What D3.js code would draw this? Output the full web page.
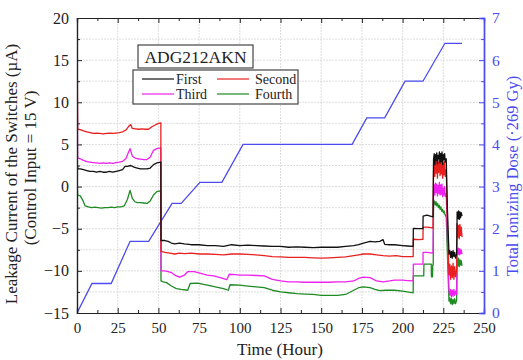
<!DOCTYPE html>
<html>
<head>
<meta charset="utf-8">
<script src="https://cdn.jsdelivr.net/npm/d3@7"></script>
<style>
  html, body { margin: 0; padding: 0; background: #fff; }
  svg { display: block; }
</style>
</head>
<body>
<svg id="chart" width="523" height="360"></svg>
<script>
// Leakage current of the four switches [hour, µA]
const first = [
  [0,3],[0.5,2.1],[2,2.1],[4,2.0],[6,1.9],[8,1.8],[10,1.8],[12,1.7],[14,1.8],[16,1.7],[18,1.7],[20,1.8],
  [22,1.7],[24,1.8],[26,1.9],[28,2.0],[29.5,2.4],[31,2.4],[33,2.5],[35,2.3],[37,2.2],[39,2.1],[41,2.1],
  [43,2.1],[45,2.2],[47,2.6],[49,2.8],[51.5,2.9],
  [51.6,-6.4],[54,-6.4],[56,-6.5],[58,-6.7],[60,-6.8],[63,-6.7],[66,-6.8],[70,-6.9],[75,-6.9],[80,-7.0],
  [85,-7.0],[90,-7.1],[95,-6.9],[100,-7.0],[105,-6.95],[110,-7.0],[115,-7.05],[120,-7.1],[125,-7.1],
  [130,-7.2],[135,-7.15],[140,-7.2],[145,-7.25],[150,-7.2],[155,-7.2],[160,-7.2],[165,-7.1],[170,-7.0],
  [173,-6.9],[176,-6.7],[180,-6.5],[183,-6.55],[186,-6.5],[188,-6.3],[189,-6.85],[192,-6.9],[195,-6.9],
  [200,-7.0],[203,-7.05],[206.5,-7.1],
  [206.6,-4.95],[210,-5.0],[212.5,-5.0],[212.6,-3.5],[215,-3.4],[217,-3.5],[218.7,-3.6],
  [219,3.2],[219.4,3.9],[219.8,2.6],[220.2,3.8],[220.6,3.1],[221,4.0],[221.4,2.7],[221.8,3.7],[222.2,3.3],
  [222.6,4.1],[223,2.8],[223.4,3.9],[223.8,3.0],[224.2,4.1],[224.6,2.6],[225,3.8],[225.4,3.2],[225.8,3.9],
  [226.2,2.9],[226.8,3.3],[227.5,-2.6],[228.5,-8.0],[229,-7.6],[229.5,-8.4],[230,-7.7],[230.5,-8.5],
  [231,-7.6],[231.5,-8.3],[232,-7.8],[232.5,-8.5],[233.2,-8.0],[233.5,-3.0],[234,-3.8],[234.4,-2.9],
  [234.8,-3.9],[235.2,-3.0],[235.6,-3.7],[236,-3.1],[236.5,-3.5]
];
const second = [
  [0,20],[0.4,6.8],[2,6.75],[4,6.6],[6,6.5],[8,6.4],[10,6.3],[12,6.35],[14,6.3],[16,6.25],[18,6.3],
  [20,6.35],[22,6.3],[24,6.35],[26,6.4],[28,6.5],[30,6.7],[32,7.2],[33,7.35],[34,6.9],[36,6.85],[38,6.8],
  [40,6.85],[42,6.8],[44,6.8],[46,7.1],[48,7.3],[50,7.5],[51.5,7.55],
  [51.6,-7.7],[54,-7.8],[57,-7.9],[60,-8.0],[63,-7.9],[66,-7.95],[70,-7.9],[75,-8.0],[80,-8.0],[85,-8.05],
  [90,-8.1],[95,-8.0],[100,-8.0],[105,-8.05],[110,-8.1],[115,-8.2],[120,-8.3],[125,-8.35],[130,-8.4],
  [135,-8.4],[140,-8.4],[145,-8.45],[150,-8.5],[155,-8.45],[160,-8.4],[165,-8.35],[170,-8.2],[173,-8.1],
  [176,-8.0],[180,-8.0],[184,-8.1],[188,-8.2],[192,-8.25],[196,-8.2],[200,-8.3],[203,-8.3],[206.5,-8.3],
  [206.6,-6.25],[210,-6.3],[212.5,-6.25],[212.6,-4.8],[215,-4.8],[218.7,-4.9],
  [219,1.8],[219.4,3.0],[219.8,1.2],[220.2,3.3],[220.6,1.6],[221,3.1],[221.4,1.0],[221.8,2.9],[222.2,1.7],
  [222.6,3.5],[223,1.3],[223.4,3.2],[223.8,1.5],[224.2,3.3],[224.6,1.0],[225,2.8],[225.4,1.4],[225.8,3.0],
  [226.2,1.2],[226.8,2.0],[227.5,-4.0],[228.5,-10.5],[229,-9.2],[229.5,-11.0],[230,-9.4],[230.5,-10.8],
  [231,-9.1],[231.5,-11.0],[232,-9.5],[232.5,-10.7],[233.2,-9.8],[233.5,-4.4],[234,-6.0],[234.4,-4.6],
  [234.8,-6.2],[235.2,-4.5],[235.6,-5.8],[236,-4.8],[236.5,-6.0]
];
const third = [
  [0,20],[0.4,3.4],[2,3.3],[4,3.1],[6,2.95],[8,2.9],[10,2.85],[12,2.8],[14,2.75],[16,2.8],[18,2.75],
  [20,2.8],[22,2.75],[24,2.85],[26,2.9],[28,3.0],[30,3.3],[31.5,4.0],[32.6,4.5],[34,3.6],[35.5,3.4],
  [37,3.3],[39,3.25],[41,3.2],[43,3.2],[45,3.5],[47,4.3],[49,4.5],[51.5,4.6],
  [51.6,-10.0],[54,-10.0],[56,-10.1],[58,-10.2],[60,-10.5],[63,-10.75],[66,-10.5],[68,-10.1],[72,-10.1],
  [76,-10.3],[80,-10.5],[84,-10.6],[88,-10.8],[92,-11.05],[93.5,-10.4],[97,-10.45],[100,-10.5],[105,-10.5],
  [110,-10.55],[115,-10.6],[120,-11.0],[125,-11.2],[130,-11.3],[135,-11.3],[140,-11.35],[145,-11.35],
  [150,-11.35],[155,-11.35],[160,-11.3],[165,-11.3],[170,-11.2],[173,-10.9],[176,-10.75],[180,-10.8],
  [184,-11.2],[188,-11.3],[192,-11.2],[195,-11.1],[200,-11.1],[203,-11.15],[206.5,-11.2],
  [206.6,-9.2],[210,-9.2],[212.5,-9.2],[212.6,-7.8],[215,-7.8],[218.7,-7.9],
  [219,-0.6],[219.4,0.2],[219.8,-1.0],[220.2,0.4],[220.6,-0.7],[221,0.3],[221.4,-1.1],[221.8,0.1],
  [222.2,-0.8],[222.6,0.5],[223,-1.0],[223.4,0.2],[223.8,-0.9],[224.2,0.3],[224.6,-1.2],[225,-0.2],
  [225.4,-1.0],[225.8,0.0],[226.2,-1.2],[226.8,-0.8],[227.5,-6.0],[228.5,-12.4],[229,-12.9],[229.5,-12.2],
  [230,-13.1],[230.5,-12.3],[231,-13.0],[231.5,-12.2],[232,-12.9],[232.5,-12.4],[233.2,-12.8],[233.5,-7.4],
  [234,-8.0],[234.4,-7.3],[234.8,-8.1],[235.2,-7.4],[235.6,-8.0],[236,-7.5],[236.5,-8.0]
];
const fourth = [
  [0,1],[0.4,-1.0],[2,-1.1],[3.5,-1.6],[5,-2.3],[7,-2.4],[9,-2.5],[11,-2.45],[13,-2.5],[15,-2.55],
  [17,-2.5],[19,-2.5],[21,-2.45],[23,-2.5],[25,-2.4],[27,-2.4],[29,-2.3],[31,-1.5],[32.6,-0.45],[34,-1.4],
  [35.5,-1.8],[37,-1.9],[39,-1.9],[41,-1.95],[43,-2.0],[45,-1.7],[47,-1.0],[49,-0.6],[51.5,-0.5],
  [51.6,-11.2],[53,-11.3],[55,-11.4],[58,-11.8],[61,-12.1],[64,-12.2],[68,-12.3],[69.5,-11.5],[74,-11.45],
  [80,-11.7],[85,-11.9],[90,-12.1],[93,-12.3],[94,-11.65],[100,-11.7],[105,-11.8],[110,-11.9],[115,-12.0],
  [120,-12.3],[125,-12.5],[130,-12.6],[135,-12.7],[140,-12.75],[145,-12.8],[150,-12.9],[155,-12.9],
  [160,-12.9],[165,-12.8],[170,-12.3],[173,-12.0],[176,-11.9],[180,-12.0],[183,-12.2],[186,-12.35],
  [190,-12.3],[195,-12.3],[200,-12.4],[203,-12.5],[206.5,-12.6],
  [206.6,-10.6],[210,-10.6],[213,-10.6],[213.1,-9.2],[216,-9.2],[217.6,-9.2],[217.7,-10.7],[218.4,-10.7],
  [218.5,-9.3],[218.8,-9.3],
  [219,-2.0],[219.5,-1.7],[220,-2.2],[220.5,-1.8],[221,-2.3],[221.5,-2.0],[222,-2.5],[222.5,-2.2],
  [223,-2.7],[223.5,-2.4],[224,-2.9],[224.5,-2.7],[225,-3.1],[225.5,-2.9],[226,-3.3],[226.8,-3.6],
  [227.6,-8.5],[228.5,-13.6],[229,-13.2],[229.5,-13.9],[230,-13.3],[230.5,-14.0],[231,-13.4],
  [231.5,-13.9],[232,-13.3],[232.5,-13.9],[233.2,-13.5],[233.5,-8.6],[234,-9.4],[234.4,-8.5],[234.8,-9.5],
  [235.2,-8.7],[235.6,-9.3],[236,-8.8],[236.5,-9.4]
];
// Accumulated total ionizing dose [hour, ×269 Gy]
const dose = [
  [0,0],[9.2,0.7],[21,0.7],[32.6,1.7],[44,1.7],[58.4,2.6],[64,2.6],[75.5,3.1],[89,3.1],[102,4.0],
  [169,4.0],[178,4.63],[189,4.63],[201.5,5.5],[212.5,5.5],[226,6.4],[236.5,6.4]
];

const seriesNames = ["First", "Second", "Third", "Fourth"];
const seriesColors = ["#111111", "#e8201e", "#f020f0", "#1e8a22"];
const seriesData = [first, second, third, fourth];
const xTicks = [0, 25, 50, 75, 100, 125, 150, 175, 200, 225, 250];
const yTicks = [-15, -10, -5, 0, 5, 10, 15, 20];
const y2Ticks = [0, 1, 2, 3, 4, 5, 6, 7];

const FONT = "Liberation Serif";
const svg = d3.select("#chart");
const m = { left: 77, right: 484, top: 18, bottom: 313 };
const x = d3.scaleLinear().domain([0, 250]).range([m.left, m.right]);
const y = d3.scaleLinear().domain([-15, 20]).range([m.bottom, m.top]);
const y2 = d3.scaleLinear().domain([0, 7]).range([m.bottom, m.top]);
const blue = "#4b4bf0";

// grid
const grid = svg.append("g").attr("stroke", "#d4d4d4").attr("stroke-width", 0.8).attr("stroke-dasharray", "2,1");
d3.range(1, 10).forEach(i => {
  const gx = x(i * 25);
  grid.append("line").attr("x1", gx).attr("x2", gx).attr("y1", m.top).attr("y2", m.bottom);
});
d3.range(-12.5, 20, 2.5).forEach(v => {
  grid.append("line").attr("x1", m.left).attr("x2", m.right).attr("y1", y(v)).attr("y2", y(v));
});

// clip for data
svg.append("clipPath").attr("id", "plotclip").append("rect")
  .attr("x", m.left).attr("y", m.top).attr("width", m.right - m.left).attr("height", m.bottom - m.top);

const line = d3.line().x(d => x(d[0])).y(d => y(d[1]));
const doseLine = d3.line().x(d => x(d[0])).y(d => y2(d[1]));

const plot = svg.append("g").attr("clip-path", "url(#plotclip)");
plot.append("path").datum(dose).attr("d", doseLine)
  .attr("fill", "none").attr("stroke", blue).attr("stroke-width", 1.3);
[3, 2, 1, 0].forEach(i => {
  plot.append("path").datum(seriesData[i]).attr("d", line)
    .attr("fill", "none").attr("stroke", seriesColors[i]).attr("stroke-width", 1.3)
    .attr("stroke-linejoin", "round");
});

// axes
const fmt = d3.format("d");
svg.append("g").attr("class", "ax-x").attr("transform", `translate(0,${m.bottom})`)
  .call(d3.axisBottom(x).tickValues(xTicks).tickSize(-5).tickPadding(9).tickFormat(fmt));
svg.append("g").attr("transform", `translate(0,${m.top})`)
  .call(d3.axisTop(x).tickValues(xTicks).tickSize(-5).tickFormat(""));
const minorX = d3.range(12.5, 250, 25);
svg.append("g").attr("transform", `translate(0,${m.bottom})`)
  .call(d3.axisBottom(x).tickValues(minorX).tickSize(-3).tickFormat(""));
svg.append("g").attr("transform", `translate(0,${m.top})`)
  .call(d3.axisTop(x).tickValues(minorX).tickSize(-3).tickFormat(""));

const gL = svg.append("g").attr("transform", `translate(${m.left},0)`)
  .call(d3.axisLeft(y).tickValues(yTicks).tickSize(-5).tickPadding(8).tickFormat(fmt));
svg.append("g").attr("transform", `translate(${m.left},0)`)
  .call(d3.axisLeft(y).tickValues(d3.range(-12.5, 20, 5)).tickSize(-3).tickFormat(""));

const gR = svg.append("g").attr("transform", `translate(${m.right},0)`)
  .call(d3.axisRight(y2).tickValues(y2Ticks).tickSize(-5).tickPadding(8).tickFormat(fmt));
const gR2 = svg.append("g").attr("transform", `translate(${m.right},0)`)
  .call(d3.axisRight(y2).tickValues(d3.range(0.5, 7, 1)).tickSize(-3).tickFormat(""));

svg.selectAll("g").attr("font-family", FONT);
svg.selectAll(".domain").attr("stroke", "#222").attr("stroke-width", 1.2);
svg.selectAll(".tick line").attr("stroke", "#222").attr("stroke-width", 1);
[gR, gR2].forEach(g => {
  g.selectAll(".domain").attr("stroke", blue).attr("stroke-width", 1.4);
  g.selectAll(".tick line").attr("stroke", blue);
});
svg.selectAll(".tick text").style("font-family", FONT).style("font-size", "15px").attr("fill", "#222");
gL.selectAll(".tick text").style("font-size", "16px");
gR.selectAll(".tick text").style("font-size", "15.5px").attr("fill", blue);

// axis titles
const title = (t) => svg.append("text").style("font-family", FONT).attr("text-anchor", "middle").text(t);
title("Time (Hour)").attr("x", 280).attr("y", 355).style("font-size", "17px").attr("fill", "#222");
title("Leakage Current of the Switches (µA)").attr("transform", "translate(17,174) rotate(-90)")
  .style("font-size", "17px").attr("fill", "#222");
title("(Control Input = 15 V)").attr("transform", "translate(36,168) rotate(-90)")
  .style("font-size", "17px").attr("fill", "#222");
title("Total Ionizing Dose (·269 Gy)").attr("transform", "translate(518,176) rotate(-90)")
  .style("font-size", "16.5px").attr("fill", blue);

// device label
svg.append("rect").attr("x", 138).attr("y", 45).attr("width", 115).attr("height", 23)
  .attr("fill", "#fff").attr("stroke", "#444").attr("stroke-width", 1.2);
title("ADG212AKN").attr("x", 195.5).attr("y", 62.5).style("font-size", "17.5px").attr("fill", "#222");

// legend
const lg = svg.append("g");
lg.append("rect").attr("x", 133).attr("y", 70).attr("width", 165).attr("height", 34)
  .attr("fill", "#fff").attr("stroke", "#444").attr("stroke-width", 1.2);
const legendPos = [[142, 79], [217, 79], [142, 94], [217, 94]];
seriesNames.forEach((name, i) => {
  const [lx, ly] = legendPos[i];
  lg.append("line").attr("x1", lx).attr("x2", lx + 32).attr("y1", ly).attr("y2", ly)
    .attr("stroke", seriesColors[i]).attr("stroke-width", 1.2);
  lg.append("text").style("font-family", FONT).style("font-size", "14px")
    .attr("x", lx + 34 + (i % 2 ? 4 : 0)).attr("y", ly + 4.5).attr("fill", "#222").text(name);
});
</script>
</body>
</html>
